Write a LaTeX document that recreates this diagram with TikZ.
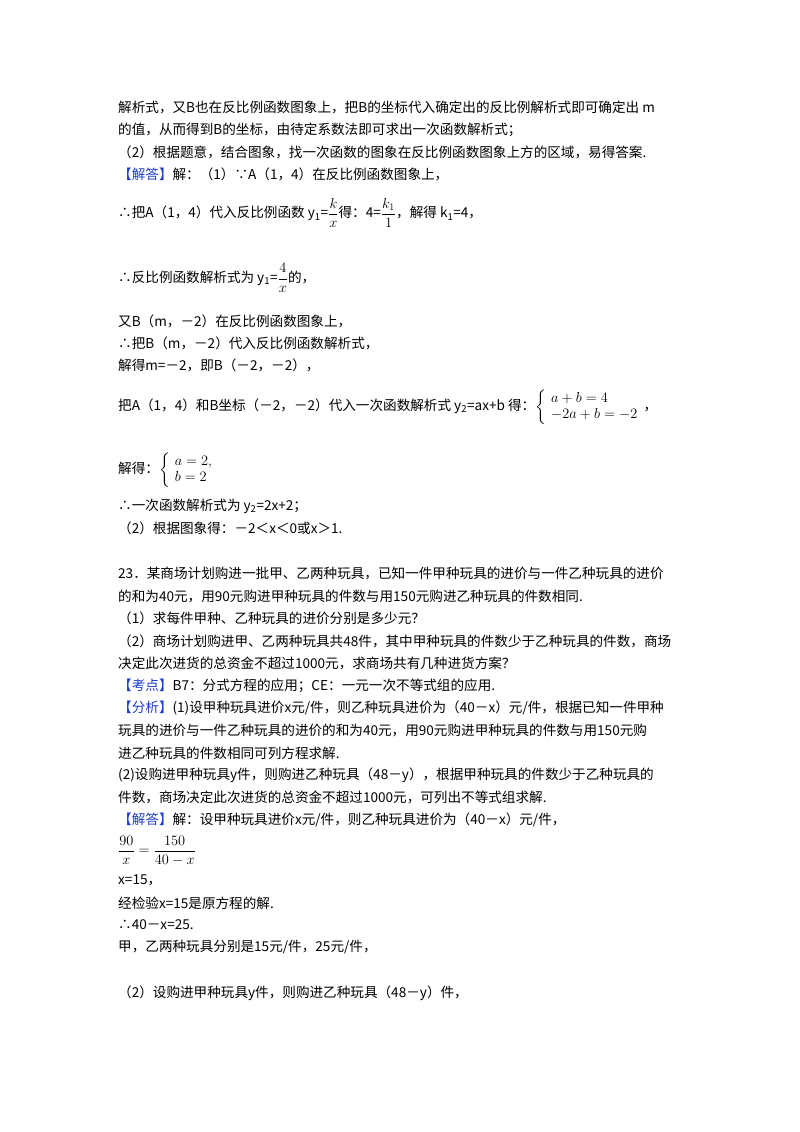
\documentclass[tikz,border=0pt]{standalone}
\usepackage{fontspec}
\usepackage{amsmath}
\setmainfont{Noto Sans CJK SC}
\definecolor{hl}{RGB}{30,60,200}
\begin{document}
\begin{tikzpicture}[x=1pt,y=-1pt,
  ln/.style={anchor=west,inner sep=0pt,font=\fontsize{13.6}{16}\selectfont}]
\useasboundingbox (0,0) rectangle (800,1132);
\fill[white] (0,0) rectangle (800,1132);
\node[ln] (l1) at (118,107) {解析式，又B也在反比例函数图象上，把B的坐标代入确定出的反比例解析式即可确定出 m};
\node[ln] (l2) at (118,130) {的值，从而得到B的坐标，由待定系数法即可求出一次函数解析式；};
\node[ln] (l3) at (118,152) {（2）根据题意，结合图象，找一次函数的图象在反比例函数图象上方的区域，易得答案.};
\node[ln] (l4) at (118,174) {\textcolor{hl}{【解答】}解：（1）∵A（1，4）在反比例函数图象上，};
\node[ln] (l5) at (118,213) {∴把A（1，4）代入反比例函数 y\textsubscript{1}=$\dfrac{k}{x}$得：4=$\dfrac{k_1}{1}$，解得 k\textsubscript{1}=4，};
\node[ln] (l6) at (118,278) {∴反比例函数解析式为 y\textsubscript{1}=$\dfrac{4}{x}$的，};
\node[ln] (l7) at (118,321) {又B（m，－2）在反比例函数图象上，};
\node[ln] (l8) at (118,343) {∴把B（m，－2）代入反比例函数解析式，};
\node[ln] (l9) at (118,365) {解得m=－2，即B（－2，－2），};
\node[ln] (l10) at (118,407) {把A（1，4）和B坐标（－2，－2）代入一次函数解析式 y\textsubscript{2}=ax+b 得：$\left\{\begin{array}{l}a+b=4\\ -2a+b=-2\end{array}\right.$，};
\node[ln] (l11) at (118,470) {解得：$\left\{\begin{array}{l}a=2,\\ b=2\end{array}\right.$};
\node[ln] (l12) at (118,506) {∴一次函数解析式为 y\textsubscript{2}=2x+2；};
\node[ln] (l13) at (118,528) {（2）根据图象得：－2＜x＜0或x＞1.};
\node[ln] (l14) at (118,573) {23．某商场计划购进一批甲、乙两种玩具，已知一件甲种玩具的进价与一件乙种玩具的进价};
\node[ln] (l15) at (118,596) {的和为40元，用90元购进甲种玩具的件数与用150元购进乙种玩具的件数相同.};
\node[ln] (l16) at (118,618) {（1）求每件甲种、乙种玩具的进价分别是多少元？};
\node[ln] (l17) at (118,641) {（2）商场计划购进甲、乙两种玩具共48件，其中甲种玩具的件数少于乙种玩具的件数，商场};
\node[ln] (l18) at (118,663) {决定此次进货的总资金不超过1000元，求商场共有几种进货方案？};
\node[ln] (l19) at (118,686) {\textcolor{hl}{【考点】}B7：分式方程的应用；CE：一元一次不等式组的应用.};
\node[ln] (l20) at (118,708) {\textcolor{hl}{【分析】}(1)设甲种玩具进价x元/件，则乙种玩具进价为（40－x）元/件，根据已知一件甲种};
\node[ln] (l21) at (118,730) {玩具的进价与一件乙种玩具的进价的和为40元，用90元购进甲种玩具的件数与用150元购};
\node[ln] (l22) at (118,753) {进乙种玩具的件数相同可列方程求解.};
\node[ln] (l23) at (118,775) {(2)设购进甲种玩具y件，则购进乙种玩具（48－y），根据甲种玩具的件数少于乙种玩具的};
\node[ln] (l24) at (118,797) {件数，商场决定此次进货的总资金不超过1000元，可列出不等式组求解.};
\node[ln] (l25) at (118,820) {\textcolor{hl}{【解答】}解：设甲种玩具进价x元/件，则乙种玩具进价为（40－x）元/件，};
\node[ln] (l26) at (118,851) {$\dfrac{90}{x}=\dfrac{150}{40-x}$};
\node[ln] (l27) at (118,880) {x=15，};
\node[ln] (l28) at (118,903) {经检验x=15是原方程的解.};
\node[ln] (l29) at (118,925) {∴40－x=25.};
\node[ln] (l30) at (118,947) {甲，乙两种玩具分别是15元/件，25元/件，};
\node[ln] (l31) at (118,993) {（2）设购进甲种玩具y件，则购进乙种玩具（48－y）件，};
\end{tikzpicture}
\end{document}
